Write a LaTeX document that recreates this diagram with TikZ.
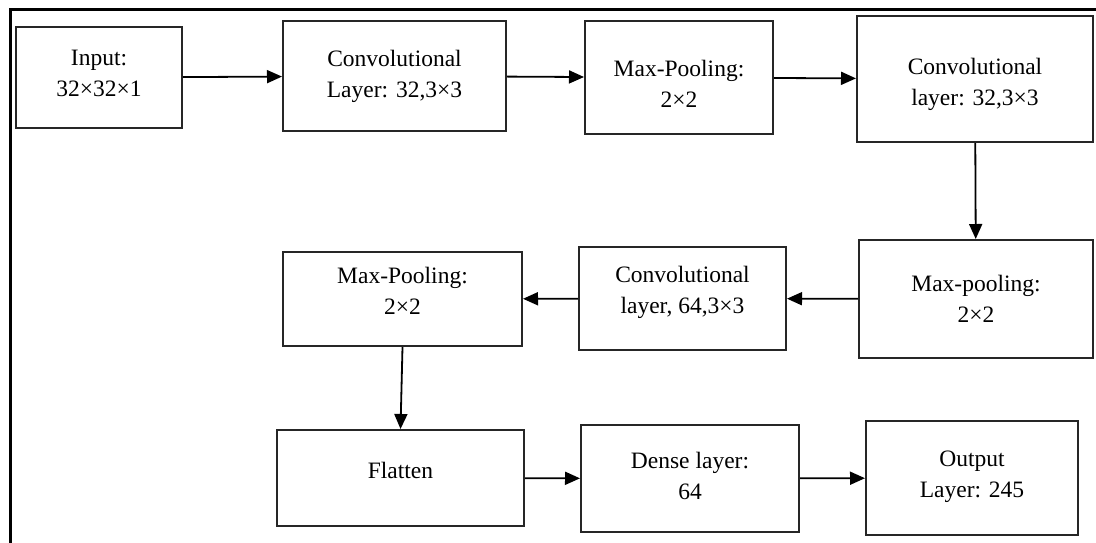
\documentclass[tikz,border=0pt]{standalone}
\usepackage{fontspec}
\setmainfont{Liberation Serif}
\usetikzlibrary{arrows.meta}
\tikzset{
  layerbox/.style={draw=black!85, line width=2pt, inner sep=0pt},
  txt/.style={align=center, inner sep=0pt, font=\fontsize{23.5}{31}\selectfont},
  flow/.style={line width=1.8pt, -{Triangle[length=15pt,width=13pt]}},
}
\begin{document}
\begin{tikzpicture}[x=1pt,y=-1pt]
\useasboundingbox (0,0) rectangle (1096,542);
\draw[line width=3pt] (10,545) -- (10,9) -- (1100,9);
\node[layerbox, minimum width=166pt, minimum height=101pt,
  label={[txt, yshift=4pt]center:{Input:\\32×32×1}}] (in) at (99,77.5) {};
\node[layerbox, minimum width=223pt, minimum height=110pt,
  label={[txt]center:{Convolutional\\Layer: 32,3×3}}] (c1) at (394.5,76) {};
\node[layerbox, minimum width=188pt, minimum height=113pt,
  label={[txt, yshift=-6pt]center:{Max-Pooling:\\2×2}}] (m1) at (679,77.5) {};
\node[layerbox, minimum width=236pt, minimum height=126pt,
  label={[txt, yshift=-5pt]center:{Convolutional\\layer: 32,3×3}}] (c2) at (975,79) {};
\node[layerbox, minimum width=234pt, minimum height=118pt,
  label={[txt]center:{Max-pooling:\\2×2}}] (m2) at (976,299) {};
\node[layerbox, minimum width=207pt, minimum height=103pt,
  label={[txt, yshift=6pt]center:{Convolutional\\layer, 64,3×3}}] (c3) at (682.5,298.5) {};
\node[layerbox, minimum width=239pt, minimum height=94pt,
  label={[txt, yshift=8pt]center:{Max-Pooling:\\2×2}}] (m3) at (402.5,299) {};
\node[layerbox, minimum width=247pt, minimum height=96pt,
  label={[txt, yshift=8pt]center:{Flatten}}] (fl) at (400.5,478) {};
\node[layerbox, minimum width=218pt, minimum height=107pt,
  label={[txt, yshift=3pt]center:{Dense layer:\\64}}] (de) at (690,478.5) {};
\node[layerbox, minimum width=212pt, minimum height=114pt,
  label={[txt, yshift=1pt]center:{Output\\Layer: 245}}] (out) at (972,478) {};
\draw[flow] (in) -- (c1);
\draw[flow] (c1) -- (m1);
\draw[flow] (m1) -- (c2);
\draw[flow] (c2) -- (m2);
\draw[flow] (m2) -- (c3);
\draw[flow] (c3) -- (m3);
\draw[flow] (m3.south) -- (fl.north);
\draw[flow] (fl) -- (de);
\draw[flow] (de) -- (out);
\end{tikzpicture}
\end{document}
